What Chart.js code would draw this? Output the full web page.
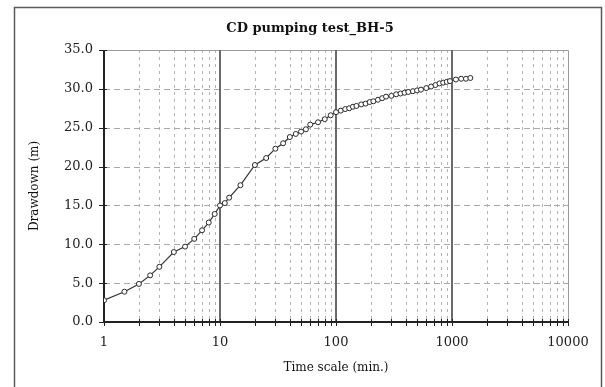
<!DOCTYPE html>
<html>
<head>
<meta charset="utf-8">
<title>CD pumping test_BH-5</title>
<script src="https://cdn.jsdelivr.net/npm/chart.js@4.4.1/dist/chart.umd.min.js"></script>
<style>
  html, body { margin: 0; padding: 0; background: #ffffff; }
  #wrap { width: 605px; height: 387px; }
</style>
</head>
<body>
<div id="wrap"><canvas id="c" width="605" height="387"></canvas></div>
<script>
// Pumping test record, borehole BH-5
const chartTitle = 'CD pumping test_BH-5';
const timeMin = [1, 1.5, 2, 2.5, 3, 4, 5, 6, 7, 8, 9, 10, 11, 12, 15, 20, 25, 30, 35, 40, 45, 50, 55, 60,
  70, 80, 90, 100, 110, 120, 130, 140, 150, 165, 180, 195, 210, 230, 250, 270, 300, 330, 360, 390,
  420, 460, 500, 540, 600, 660, 720, 780, 840, 900, 960, 1080, 1200, 1320, 1440];
const drawdownM = [2.8, 3.9, 4.9, 6.0, 7.1, 9.0, 9.7, 10.7, 11.8, 12.8, 13.9, 15.0, 15.3, 16.0, 17.6, 20.2, 21.1, 22.3, 23.0, 23.8, 24.2, 24.5, 24.8, 25.4,
  25.7, 26.1, 26.6, 27.0, 27.2, 27.4, 27.5, 27.7, 27.8, 28.0, 28.1, 28.3, 28.4, 28.6, 28.8, 29.0, 29.1, 29.3, 29.4, 29.5,
  29.6, 29.7, 29.8, 29.9, 30.1, 30.3, 30.5, 30.7, 30.8, 30.9, 31.0, 31.2, 31.3, 31.3, 31.4];
const xDecades = [1, 10, 100, 1000, 10000];
const xMinorSteps = [2, 3, 4, 5, 6, 7, 8, 9];
const yTicks = [0, 5, 10, 15, 20, 25, 30, 35];

const FONT = "'DejaVu Serif', 'Liberation Serif', serif";

// Grid, axes, tick marks and the outer frame
const paperPlugin = {
  id: 'paper',
  beforeDraw(chart) {
    const ctx = chart.ctx;
    ctx.save();
    ctx.fillStyle = '#ffffff';
    ctx.fillRect(0, 0, chart.width, chart.height);
    ctx.strokeStyle = '#5a5a5a';
    ctx.lineWidth = 1.5;
    ctx.strokeRect(14.5, 7.5, 587, 400);
    ctx.fillStyle = '#111';
    ctx.font = "bold 13px " + FONT;
    ctx.textAlign = 'center';
    ctx.textBaseline = 'middle';
    ctx.fillText(chartTitle, 310, 29);
    ctx.restore();
  },
  beforeDatasetsDraw(chart) {
    const {ctx, chartArea: a, scales: {x, y}} = chart;
    ctx.save();
    // minor vertical lines
    const minors = [];
    xDecades.slice(0, -1).forEach(d => xMinorSteps.forEach(m => minors.push(d * m)));
    ctx.strokeStyle = '#b4b4b4';
    ctx.lineWidth = 1;
    ctx.setLineDash([3, 4]);
    minors.forEach(v => {
      const px = Math.round(x.getPixelForValue(v)) + 0.5;
      ctx.beginPath(); ctx.moveTo(px, a.top); ctx.lineTo(px, a.bottom); ctx.stroke();
    });
    // horizontal lines
    ctx.strokeStyle = '#a8a8a8';
    ctx.setLineDash([6, 4]);
    yTicks.slice(1, -1).forEach(v => {
      const py = Math.round(y.getPixelForValue(v)) + 0.5;
      ctx.beginPath(); ctx.moveTo(a.left, py); ctx.lineTo(a.right, py); ctx.stroke();
    });
    ctx.setLineDash([]);
    // top and right borders
    ctx.strokeStyle = '#9a9a9a';
    ctx.beginPath();
    ctx.moveTo(a.left, a.top + 0.5); ctx.lineTo(a.right + 0.5, a.top + 0.5); ctx.lineTo(a.right + 0.5, a.bottom);
    ctx.stroke();
    // decade lines
    ctx.strokeStyle = '#6a6a6a';
    ctx.lineWidth = 2;
    xDecades.slice(1, -1).forEach(v => {
      const px = Math.round(x.getPixelForValue(v));
      ctx.beginPath(); ctx.moveTo(px, a.top); ctx.lineTo(px, a.bottom); ctx.stroke();
    });
    // axes
    ctx.strokeStyle = '#222';
    ctx.lineWidth = 2;
    ctx.beginPath();
    ctx.moveTo(a.left, a.top); ctx.lineTo(a.left, a.bottom); ctx.lineTo(a.right + 1, a.bottom);
    ctx.stroke();
    // tick marks
    ctx.lineWidth = 1;
    minors.concat(xDecades).forEach(v => {
      const px = Math.round(x.getPixelForValue(v)) + 0.5;
      ctx.beginPath(); ctx.moveTo(px, a.bottom - 3); ctx.lineTo(px, a.bottom + 4); ctx.stroke();
    });
    yTicks.forEach(v => {
      const py = Math.round(y.getPixelForValue(v)) + 0.5;
      ctx.beginPath(); ctx.moveTo(a.left - 5, py); ctx.lineTo(a.left + 3, py); ctx.stroke();
    });
    ctx.restore();
  }
};

new Chart(document.getElementById('c'), {
  type: 'scatter',
  data: {
    datasets: [{
      data: timeMin.map((t, i) => ({x: t, y: drawdownM[i]})),
      showLine: true,
      borderColor: '#333333',
      borderWidth: 1.2,
      pointRadius: 2.5,
      pointBorderWidth: 1,
      pointBorderColor: '#2a2a2a',
      pointBackgroundColor: '#ffffff',
      tension: 0
    }]
  },
  options: {
    responsive: false,
    animation: false,
    devicePixelRatio: 1,
    layout: {padding: {left: 0, right: 37, top: 50, bottom: 0}},
    plugins: {legend: {display: false}, title: {display: false}, tooltip: {enabled: false}},
    scales: {
      x: {
        type: 'logarithmic',
        min: 1, max: 10000,
        afterBuildTicks: s => { s.ticks = xDecades.map(v => ({value: v})); },
        afterFit: s => { s.height = 65; },
        grid: {display: false, drawTicks: false},
        border: {display: false},
        ticks: {
          autoSkip: false, maxRotation: 0, padding: 13,
          color: '#222', font: {family: FONT, size: 13},
          callback: v => String(v)
        },
        title: {display: true, text: 'Time scale (min.)', color: '#111',
          font: {family: FONT, size: 12}, padding: {top: 0, bottom: 12}}
      },
      y: {
        min: 0, max: 35,
        afterBuildTicks: s => { s.ticks = yTicks.map(v => ({value: v})); },
        afterFit: s => { s.width = 104; },
        grid: {display: false, drawTicks: false},
        border: {display: false},
        ticks: {
          padding: 11, color: '#222', font: {family: FONT, size: 13},
          callback: v => Number(v).toFixed(1)
        },
        title: {display: true, text: 'Drawdown (m)', color: '#111',
          font: {family: FONT, size: 12}, padding: {top: 28, bottom: 0}}
      }
    }
  },
  plugins: [paperPlugin]
});
</script>
</body>
</html>
